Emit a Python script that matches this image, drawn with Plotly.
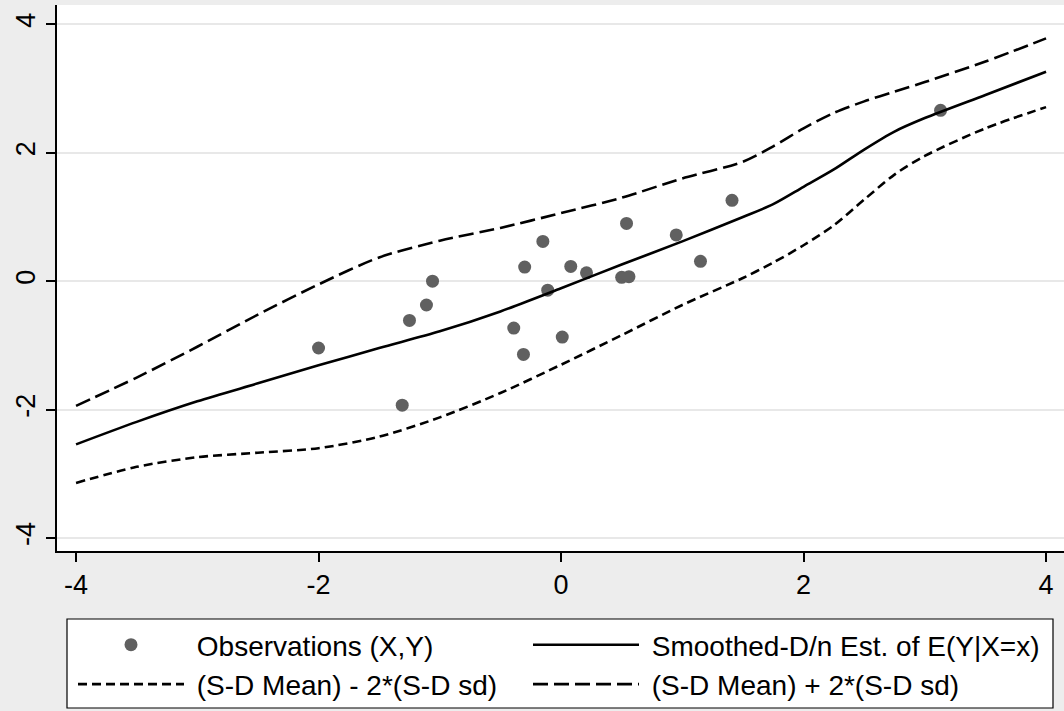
import plotly.graph_objects as go

# Observations
obs_x = [-2.00, -1.31, -1.25, -1.11, -1.06, -0.39, -0.30, -0.31, -0.15, -0.11,
         0.01, 0.08, 0.21, 0.50, 0.56, 0.54, 0.95, 1.15, 1.41, 3.13]
obs_y = [-1.04, -1.93, -0.61, -0.37, 0.00, -0.73, 0.22, -1.14, 0.62, -0.14,
         -0.87, 0.23, 0.13, 0.06, 0.07, 0.90, 0.72, 0.31, 1.26, 2.66]

# Smoothed curves
grid_x = [-4, -3.5, -3, -2.5, -2, -1.5, -1, -0.5, 0, 0.5, 1, 1.5, 1.75, 2, 2.25, 2.5, 2.75, 3, 3.5, 4]
mean_y = [-2.54, -2.19, -1.87, -1.59, -1.31, -1.04, -0.78, -0.47, -0.11, 0.26, 0.62, 1.00, 1.20,
          1.47, 1.74, 2.05, 2.33, 2.54, 2.90, 3.26]
lower_y = [-3.14, -2.89, -2.74, -2.67, -2.60, -2.42, -2.12, -1.74, -1.30, -0.84, -0.37, 0.05, 0.29,
           0.56, 0.87, 1.27, 1.66, 1.95, 2.38, 2.71]
upper_y = [-1.94, -1.50, -1.02, -0.52, -0.05, 0.37, 0.63, 0.83, 1.06, 1.30, 1.60, 1.86, 2.10,
           2.38, 2.62, 2.80, 2.95, 3.10, 3.42, 3.78]

x_ticks = [-4, -2, 0, 2, 4]
y_ticks = [-4, -2, 0, 2, 4]

names = ["Observations (X,Y)", "Smoothed-D/n Est. of E(Y|X=x)",
         "(S-D Mean) - 2*(S-D sd)", "(S-D Mean) + 2*(S-D sd)"]

W, H = 1064, 711
FONT = "Liberation Sans, Arial, sans-serif"
FS = 27
LFS = 28
PAD = "\u00a0"  # small gap between legend key and label

fig = go.Figure()
fig.add_trace(go.Scatter(x=obs_x, y=obs_y, mode="markers", name=PAD + names[0], legend="legend",
                         marker=dict(color="#606060", size=13, line=dict(width=0))))
fig.add_trace(go.Scatter(x=grid_x, y=lower_y, mode="lines", name=PAD + names[2], legend="legend",
                         line=dict(color="black", width=2.6, dash="9px,5px", shape="spline", smoothing=0.8)))
fig.add_trace(go.Scatter(x=grid_x, y=mean_y, mode="lines", name=PAD + names[1], legend="legend2",
                         line=dict(color="black", width=2.6, shape="spline", smoothing=0.8)))
fig.add_trace(go.Scatter(x=grid_x, y=upper_y, mode="lines", name=PAD + names[3], legend="legend2",
                         line=dict(color="black", width=2.6, dash="15px,6px", shape="spline", smoothing=0.8)))

left, right, top, bottom = 57, 1064, 5, 551
pw, ph = right - left, bottom - top

# legend frame (container pixels -> paper coords)
box_x0, box_x1, box_y0, box_y1 = 67, 1053, 619, 708
fig.add_shape(type="rect", xref="paper", yref="paper",
              x0=(box_x0 - left) / pw, x1=(box_x1 - left) / pw,
              y0=(bottom - box_y1) / ph, y1=(bottom - box_y0) / ph,
              fillcolor="white", line=dict(color="black", width=1.2), layer="below")

leg_common = dict(orientation="v", xref="container", yref="container",
                  y=1 - 620 / H, xanchor="left", yanchor="top",
                  bgcolor="rgba(0,0,0,0)", borderwidth=0,
                  font=dict(family=FONT, size=LFS, color="black"),
                  itemwidth=106, traceorder="normal", tracegroupgap=0)

fig.update_layout(
    width=W, height=H,
    margin=dict(l=left, r=W - right, t=top, b=H - bottom, pad=0, autoexpand=False),
    paper_bgcolor="#EDEDED", plot_bgcolor="white",
    font=dict(family=FONT, size=FS, color="black"),
    showlegend=True,
    legend=dict(x=73 / W, **leg_common),
    legend2=dict(x=528 / W, **leg_common),
    xaxis=dict(range=[-4.157, 4.148], tickvals=x_ticks, ticktext=[str(v) for v in x_ticks],
               showgrid=False, zeroline=False, showline=True, linecolor="black", linewidth=1.5,
               ticks="outside", ticklen=9, tickwidth=1.5, tickcolor="black",
               tickfont=dict(size=FS), mirror=False, automargin=False),
    yaxis=dict(range=[-4.2, 4.3], tickvals=y_ticks, ticktext=[str(v) for v in y_ticks],
               showgrid=True, gridcolor="#E8E8E8", gridwidth=2, zeroline=False,
               showline=True, linecolor="black", linewidth=1.5,
               ticks="outside", ticklen=9, tickwidth=1.5, tickcolor="black",
               tickangle=-90, tickfont=dict(size=FS), automargin=False),
)

fig.write_html("out.html")
